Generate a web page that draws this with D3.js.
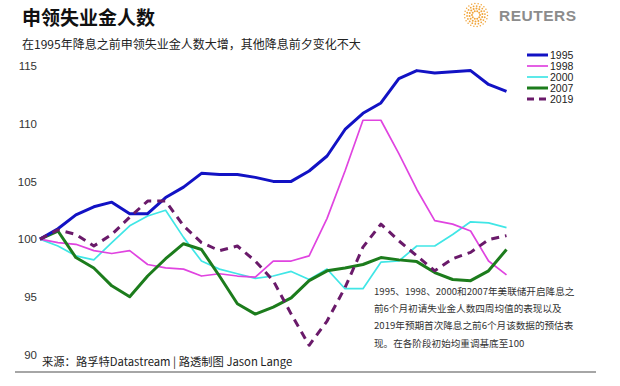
<!DOCTYPE html>
<html>
<head>
<meta charset="utf-8">
<script src="https://cdn.jsdelivr.net/npm/d3@7"></script>
<style>
  body { margin:0; background:#fff; }
  svg { font-family: "Liberation Sans", Arial, "Noto Sans CJK SC", sans-serif; }
  .cjk { font-family: "Noto Sans CJK SC", "Liberation Sans", sans-serif; }
</style>
</head>
<body>
<script>
// weeks before the first rate cut (0 = six months out)
var weeks = [0,1,2,3,4,5,6,7,8,9,10,11,12,13,14,15,16,17,18,19,20,21,22,23,24,25,26];

var s1995 = [100,100.9,102.1,102.8,103.2,102.2,102.2,103.6,104.5,105.7,105.6,105.6,105.35,105.0,105.0,105.9,107.2,109.5,110.9,111.8,113.9,114.6,114.4,114.5,114.6,113.4,112.8];
var s1998 = [100,99.7,99.55,99.0,98.75,99.0,97.8,97.5,97.4,96.8,97.0,96.8,96.7,98.1,98.1,98.55,101.8,105.9,110.3,110.3,107.4,104.3,101.6,101.3,100.7,98.1,96.9];
var s2000 = [100,99.4,98.55,98.2,99.7,101.15,102.0,102.5,100.15,98.1,97.4,97.0,96.6,96.8,97.2,96.5,97.4,95.7,95.7,98.0,98.1,99.4,99.4,100.4,101.5,101.4,101.0];
var s2007 = [100,100.7,98.4,97.5,95.95,95.0,96.8,98.3,99.6,99.1,96.8,94.4,93.5,94.1,94.9,96.4,97.25,97.5,97.8,98.4,98.2,98.05,97.1,96.5,96.4,97.25,99.1];
var s2019 = [100,100.8,100.4,99.4,100.4,101.9,103.3,103.3,101.15,99.7,99.0,99.4,98.1,96.4,93.5,90.8,92.9,95.8,99.3,101.3,99.85,98.55,97.25,98.3,98.85,99.95,100.3];

var seriesNames = ["1995","1998","2000","2007","2019"];
var yTicks = [90,95,100,105,110,115];

var title = "申领失业金人数";
var subtitle = "在1995年降息之前申领失业金人数大增，其他降息前夕变化不大";
var source = "来源：路孚特Datastream | 路透制图 Jason Lange";
var note = ["1995、1998、2000和2007年美联储开启降息之",
            "前6个月初请失业金人数四周均值的表现以及",
            "2019年预期首次降息之前6个月该数据的预估表",
            "现。在各阶段初始均重调基底至100"];

var styles = {
  "1995": {color:"#1212c4", w:3,   dash:null},
  "1998": {color:"#e044e0", w:1.7, dash:null},
  "2000": {color:"#40e6e6", w:1.7, dash:null},
  "2007": {color:"#1c7c1c", w:3,   dash:null},
  "2019": {color:"#6a1a6a", w:3,   dash:"8,6"}
};

var allSeries = {"1995":s1995,"1998":s1998,"2000":s2000,"2007":s2007,"2019":s2019};

var width = 620, height = 386;
var svg = d3.select("body").append("svg")
  .attr("width",width)
  .attr("height",height);

var xScale = d3.scaleLinear().domain([0,26]).range([40,506.5]);
var yScale = d3.scaleLinear().domain([90,115]).range([354.5,66]);

// title + subtitle
svg.append("text").attr("class","cjk")
  .attr("x",22).attr("y",25)
  .attr("font-size",19).attr("font-weight","bold").attr("fill","#111")
  .text(title);
svg.append("text").attr("class","cjk")
  .attr("x",22).attr("y",48.5)
  .attr("font-size",12).attr("fill","#222")
  .text(subtitle);

// reuters logo
var logo = svg.append("g").attr("transform","translate(476,15)");
[[4,10,1.0],[6.5,14,1.0],[9,18,0.9],[11.5,22,0.75]].forEach(function(r,ri){
  d3.range(r[1]).forEach(function(i){
    var a = i/r[1]*2*Math.PI + ri*0.3;
    logo.append("circle")
      .attr("cx",Math.cos(a)*r[0])
      .attr("cy",Math.sin(a)*r[0])
      .attr("r",r[2])
      .attr("fill","#f0a43a");
  });
});
svg.append("text")
  .attr("x",499).attr("y",21)
  .attr("font-size",15.5).attr("font-weight","bold")
  .attr("fill","#8c8c8c").attr("letter-spacing",0.5)
  .text("REUTERS");

// y axis labels
var yAxis = d3.axisLeft(yScale).tickValues(yTicks).tickSize(0).tickPadding(3);
var yg = svg.append("g").attr("transform","translate(40,0)").call(yAxis);
yg.select(".domain").remove();
yg.selectAll("text").attr("font-size",11.5).attr("fill","#333")
  .attr("font-family","'Liberation Sans', Arial, sans-serif");

// lines
var line = d3.line()
  .x(function(d,i){ return xScale(weeks[i]); })
  .y(function(d){ return yScale(d); });

["2000","1998","2007","1995","2019"].forEach(function(name){
  var st = styles[name];
  svg.append("path")
    .datum(allSeries[name])
    .attr("d",line)
    .attr("fill","none")
    .attr("stroke",st.color)
    .attr("stroke-width",st.w)
    .attr("stroke-linejoin","round")
    .attr("stroke-dasharray",st.dash);
});

// legend
var legend = svg.append("g");
seriesNames.forEach(function(name,i){
  var st = styles[name];
  var ly = 55 + i*11;
  legend.append("line")
    .attr("x1",527).attr("x2",548)
    .attr("y1",ly).attr("y2",ly)
    .attr("stroke",st.color).attr("stroke-width",st.w)
    .attr("stroke-dasharray",st.dash ? "7,5" : null);
  legend.append("text")
    .attr("x",550).attr("y",ly+3.8)
    .attr("font-size",10.5).attr("fill","#222")
    .text(name);
});

// note
note.forEach(function(t,i){
  svg.append("text").attr("class","cjk")
    .attr("x",374).attr("y",294.5 + i*17.4)
    .attr("font-size",9.6).attr("fill","#333")
    .text(t);
});

// source + rule
svg.append("text").attr("class","cjk")
  .attr("x",42).attr("y",366)
  .attr("font-size",11.3).attr("fill","#222")
  .text(source);
svg.append("line")
  .attr("x1",15).attr("x2",596)
  .attr("y1",372).attr("y2",372)
  .attr("stroke","#888").attr("stroke-width",1.5);
</script>
</body>
</html>
